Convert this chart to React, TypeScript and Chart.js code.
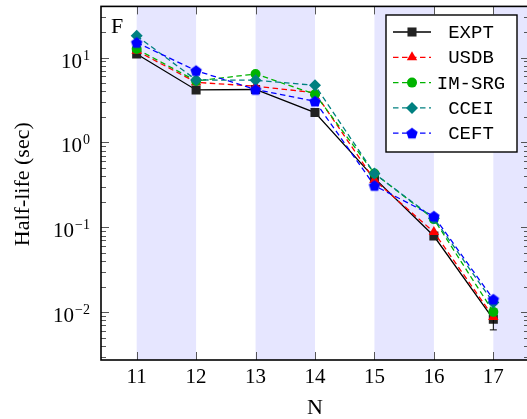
import React, { useEffect, useRef } from 'react';
import { Chart, registerables } from 'chart.js';
import { drawPoint } from 'chart.js/helpers';

Chart.register(...registerables);

// ---- data ----
const nValues = [11, 12, 13, 14, 15, 16, 17];
const expt = [11.0, 4.15, 4.2, 2.25, 0.38, 0.079, 0.0083];
const exptErr = [0, 0, 0, 0, 0, 0, 0.0021];
const usdb = [12.0, 5.1, 4.6, 3.85, 0.36, 0.088, 0.0088];
const imsrg = [12.6, 5.3, 6.4, 3.7, 0.43, 0.125, 0.0101];
const ccei = [18.0, 5.45, 5.4, 4.7, 0.43, 0.128, 0.013];
const ceft = [15.0, 7.0, 4.2, 3.05, 0.31, 0.135, 0.0142];
const seriesNames = ['EXPT', 'USDB', 'IM-SRG', 'CCEI', 'CEFT'];

const xTickValues = [11, 12, 13, 14, 15, 16, 17];
const xTickLabels = ['11', '12', '13', '14', '15', '16', '17'];
const yTickValues = [0.01, 0.1, 1, 10];
const yTickExponents = ['\u22122', '\u22121', '0', '1'];
const bandStarts = [11, 13, 15, 17];
const bandWidth = 1;
const panelLabel = 'F';
const xTitle = 'N';
const yTitle = 'Half-life (sec)';

const SERIF = '"Liberation Serif", "DejaVu Serif", serif';
const MONO = '"Liberation Mono", "DejaVu Sans Mono", monospace';

function makePentagon(color: string, r: number): HTMLCanvasElement {
  const size = Math.ceil(r * 2 + 2);
  const c = document.createElement('canvas');
  c.width = size;
  c.height = size;
  const g = c.getContext('2d')!;
  const cx = size / 2;
  const cy = size / 2 + 0.5;
  g.beginPath();
  for (let i = 0; i < 5; i++) {
    const a = -Math.PI / 2 + (i * 2 * Math.PI) / 5;
    const px = cx + r * Math.cos(a);
    const py = cy + r * Math.sin(a);
    if (i === 0) g.moveTo(px, py);
    else g.lineTo(px, py);
  }
  g.closePath();
  g.fillStyle = color;
  g.fill();
  return c;
}

export default function App() {
  const ref = useRef<HTMLCanvasElement | null>(null);

  useEffect(() => {
    if (!ref.current) return;
    const pent = makePentagon('#0000ff', 6);
    const mk = (vals: number[]) => nValues.map((n, i) => ({ x: n, y: vals[i] }));
    const dash = [5.5, 3.5];

    const datasets: any[] = [
      { label: seriesNames[0], data: mk(expt), borderColor: '#000000', backgroundColor: '#222222', borderWidth: 1.3, pointStyle: 'rect', pointRadius: 6.4, order: 5 },
      { label: seriesNames[1], data: mk(usdb), borderColor: '#ff0000', backgroundColor: '#ff0000', borderWidth: 1.3, borderDash: dash, pointStyle: 'triangle', pointRadius: 6, order: 4 },
      { label: seriesNames[2], data: mk(imsrg), borderColor: '#00b300', backgroundColor: '#00b300', borderWidth: 1.3, borderDash: dash, pointStyle: 'circle', pointRadius: 5, order: 3 },
      { label: seriesNames[3], data: mk(ccei), borderColor: '#008080', backgroundColor: '#008080', borderWidth: 1.3, borderDash: dash, pointStyle: 'rectRot', pointRadius: 6, order: 2 },
      { label: seriesNames[4], data: mk(ceft), borderColor: '#0000ff', backgroundColor: '#0000ff', borderWidth: 1.3, borderDash: dash, pointStyle: pent, pointRadius: 6, order: 1 },
    ];
    datasets.forEach((d) => {
      d.pointBorderWidth = 0;
      d.pointBorderColor = d.backgroundColor;
      d.pointBackgroundColor = d.backgroundColor;
      d.fill = false;
      d.tension = 0;
    });

    const decor = {
      id: 'decor',
      beforeDatasetsDraw(chart: any) {
        const { ctx, chartArea: a, scales } = chart;
        const x = scales.x;
        ctx.save();
        ctx.beginPath();
        ctx.rect(a.left, a.top, a.right - a.left, a.bottom - a.top);
        ctx.clip();
        ctx.fillStyle = 'rgb(230,230,255)';
        bandStarts.forEach((s) => {
          const x0 = x.getPixelForValue(s);
          const x1 = x.getPixelForValue(s + bandWidth);
          ctx.fillRect(x0, a.top, x1 - x0, a.bottom - a.top);
        });
        ctx.restore();
      },
      afterDatasetDraw(chart: any, args: any) {
        if (args.index !== 0) return;
        const { ctx, scales } = chart;
        ctx.save();
        ctx.strokeStyle = '#000';
        ctx.lineWidth = 1;
        nValues.forEach((n, i) => {
          const e = exptErr[i];
          if (!e) return;
          const px = scales.x.getPixelForValue(n);
          const y0 = scales.y.getPixelForValue(expt[i] - e);
          const y1 = scales.y.getPixelForValue(expt[i] + e);
          ctx.beginPath();
          ctx.moveTo(px, y0);
          ctx.lineTo(px, y1);
          ctx.moveTo(px - 3.5, y0);
          ctx.lineTo(px + 3.5, y0);
          ctx.moveTo(px - 3.5, y1);
          ctx.lineTo(px + 3.5, y1);
          ctx.stroke();
        });
        ctx.restore();
      },
      afterDraw(chart: any) {
        const { ctx, chartArea: a, scales } = chart;
        const xs = scales.x;
        const ys = scales.y;
        ctx.save();
        // ticks
        ctx.strokeStyle = '#444';
        ctx.lineWidth = 0.9;
        ctx.beginPath();
        xTickValues.forEach((v) => {
          const px = Math.round(xs.getPixelForValue(v)) + 0.5;
          ctx.moveTo(px, a.bottom);
          ctx.lineTo(px, a.bottom - 8);
          ctx.moveTo(px, a.top);
          ctx.lineTo(px, a.top + 8);
        });
        const ymin = ys.min;
        const ymax = ys.max;
        for (let k = -4; k <= 2; k++) {
          for (let m = 1; m <= 9; m++) {
            const v = m * Math.pow(10, k);
            if (v < ymin || v > ymax) continue;
            const len = m === 1 ? 8 : 5;
            const py = Math.round(ys.getPixelForValue(v)) + 0.5;
            ctx.moveTo(a.left, py);
            ctx.lineTo(a.left + len, py);
            ctx.moveTo(a.right, py);
            ctx.lineTo(a.right - len, py);
          }
        }
        ctx.stroke();
        // frame
        ctx.strokeStyle = '#000';
        ctx.lineWidth = 1.6;
        ctx.strokeRect(a.left, a.top, a.right - a.left, a.bottom - a.top);

        // x tick labels
        ctx.fillStyle = '#000';
        ctx.font = `21px ${SERIF}`;
        ctx.textAlign = 'center';
        ctx.textBaseline = 'alphabetic';
        xTickValues.forEach((v, i) => {
          ctx.fillText(xTickLabels[i], xs.getPixelForValue(v), a.bottom + 23);
        });
        // y tick labels
        yTickValues.forEach((v, i) => {
          const py = ys.getPixelForValue(v);
          ctx.font = `14px ${SERIF}`;
          const ew = ctx.measureText(yTickExponents[i]).width;
          ctx.font = `21px ${SERIF}`;
          const bw = ctx.measureText('10').width;
          const right = a.left - 11;
          ctx.textAlign = 'left';
          ctx.fillText('10', right - ew - bw - 1, py + 10);
          ctx.font = `14px ${SERIF}`;
          ctx.fillText(yTickExponents[i], right - ew, py + 2);
        });
        // axis titles
        ctx.font = `22px ${SERIF}`;
        ctx.textAlign = 'center';
        ctx.fillText(xTitle, (a.left + a.right) / 2, 414);
        ctx.save();
        ctx.translate(29, (a.top + a.bottom) / 2 + 1);
        ctx.rotate(-Math.PI / 2);
        ctx.fillText(yTitle, 0, 0);
        ctx.restore();
        // panel label
        ctx.font = `22px ${SERIF}`;
        ctx.textAlign = 'left';
        ctx.fillText(panelLabel, a.left + 10, a.top + 27);

        // legend
        const lx = 386, ly = 15, lw = 131, lh = 137;
        ctx.fillStyle = '#fff';
        ctx.fillRect(lx, ly, lw, lh);
        ctx.strokeStyle = '#000';
        ctx.lineWidth = 1.4;
        ctx.strokeRect(lx, ly, lw, lh);
        chart.data.datasets.forEach((d: any, i: number) => {
          const cy = 32 + i * 25.3;
          ctx.save();
          ctx.strokeStyle = d.borderColor;
          ctx.lineWidth = 1.3;
          ctx.setLineDash(d.borderDash || []);
          ctx.beginPath();
          ctx.moveTo(393, cy);
          ctx.lineTo(431, cy);
          ctx.stroke();
          ctx.setLineDash([]);
          ctx.fillStyle = d.backgroundColor;
          ctx.strokeStyle = d.backgroundColor;
          drawPoint(ctx, { pointStyle: d.pointStyle, rotation: 0, radius: d.pointRadius, borderWidth: 0 } as any, 412, cy);
          ctx.restore();
          ctx.fillStyle = '#000';
          ctx.font = `19px ${MONO}`;
          ctx.textAlign = 'center';
          ctx.textBaseline = 'middle';
          ctx.fillText(d.label, 471, cy + 1);
          ctx.textBaseline = 'alphabetic';
        });
        ctx.restore();
      },
    };

    const chart = new Chart(ref.current, {
      type: 'line',
      data: { datasets },
      options: {
        animation: false,
        responsive: false,
        devicePixelRatio: 1,
        layout: { padding: { left: 101, top: 3, right: 11, bottom: 59 } },
        scales: {
          x: { type: 'linear', min: 10.4, max: 17.6, display: false },
          y: { type: 'logarithmic', min: 0.00274, max: 40, display: false },
        },
        plugins: { legend: { display: false }, tooltip: { enabled: false } },
      },
      plugins: [decor],
    });
    return () => chart.destroy();
  }, []);

  return (
    <div style={{ position: 'fixed', left: 0, top: 0, width: 527, height: 419, overflow: 'hidden', background: '#fff' }}>
      <canvas ref={ref} width={540} height={419} style={{ display: 'block' }} />
    </div>
  );
}
